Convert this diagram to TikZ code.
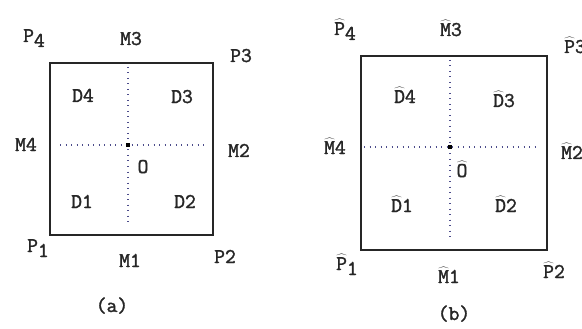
\documentclass[tikz,border=0pt]{standalone}
\usepackage{fontspec}
\newfontfamily\labfont{Latin Modern Mono}[AutoFakeBold=1.6]
\newcommand\hl[1]{$\widehat{\mbox{#1}}$}
\newcommand\lo[1]{\raisebox{-5pt}{#1}}
\begin{document}
\begin{tikzpicture}[x=1pt,y=-1pt,
  lab/.style={anchor=base,inner sep=0pt,font=\fontsize{21}{21}\selectfont\labfont\bfseries,text=black!85},
  frame/.style={draw=black!85,line width=1.3pt},
  dotl/.style={draw=blue!35!black!70,line width=1.1pt,dash pattern=on 1pt off 4.5pt},
  ctr/.style={fill=black,minimum size=3.5pt,inner sep=0pt}]
\useasboundingbox (0,0) rectangle (582,329);
% ---------- (a)
\coordinate (a1) at (50,235); \coordinate (a3) at (213,63);
\draw[frame] (a1) rectangle (a3);
\coordinate (ah1) at (60,145); \coordinate (ah2) at (206,145);
\coordinate (av1) at (128,67); \coordinate (av2) at (128,222);
\draw[dotl] (ah1) -- (ah2);
\draw[dotl] (av1) -- (av2);
\node[ctr] (ao) at (128,145) {};
\node[lab] (aP4) at (34,42) {P\lo{4}};
\node[lab] (aM3) at (131,45) {M3};
\node[lab] (aP3) at (241,62) {P3};
\node[lab] (aD4) at (83,102) {D4};
\node[lab] (aD3) at (182,103) {D3};
\node[lab] (aM4) at (26,151) {M4};
\node[lab] (aM2) at (239,157) {M2};
\node[lab] (aO) at (143,173) {O};
\node[lab] (aD1) at (82,208) {D1};
\node[lab] (aD2) at (185,208) {D2};
\node[lab] (aP1) at (38,252) {P\lo{1}};
\node[lab] (aM1) at (130,267) {M1};
\node[lab] (aP2) at (225,263) {P2};
\node[lab] (acap) at (112,312) {(a)};
% ---------- (b)
\coordinate (b1) at (361,250); \coordinate (b3) at (547,56);
\draw[frame] (b1) rectangle (b3);
\coordinate (bh1) at (364,147); \coordinate (bh2) at (535,147);
\coordinate (bv1) at (450,60); \coordinate (bv2) at (450,238);
\draw[dotl] (bh1) -- (bh2);
\draw[dotl] (bv1) -- (bv2);
\node[ctr] (bo) at (450,147) {};
\node[lab] (bP4) at (345,35) {\hl{P}\lo{4}};
\node[lab] (bM3) at (451,36) {\hl{M}3};
\node[lab] (bP3) at (575,53) {\hl{P}3};
\node[lab] (bD4) at (405,103) {\hl{D}4};
\node[lab] (bD3) at (504,107) {\hl{D}3};
\node[lab] (bM4) at (335,154) {\hl{M}4};
\node[lab] (bM2) at (572,159) {\hl{M}2};
\node[lab] (bO) at (462,177) {\hl{O}};
\node[lab] (bD1) at (402,212) {\hl{D}1};
\node[lab] (bD2) at (506,212) {\hl{D}2};
\node[lab] (bP1) at (347,270) {\hl{P}\lo{1}};
\node[lab] (bM1) at (449,283) {\hl{M}1};
\node[lab] (bP2) at (554,278) {\hl{P}2};
\node[lab] (bcap) at (454,320) {(b)};
\end{tikzpicture}
\end{document}
